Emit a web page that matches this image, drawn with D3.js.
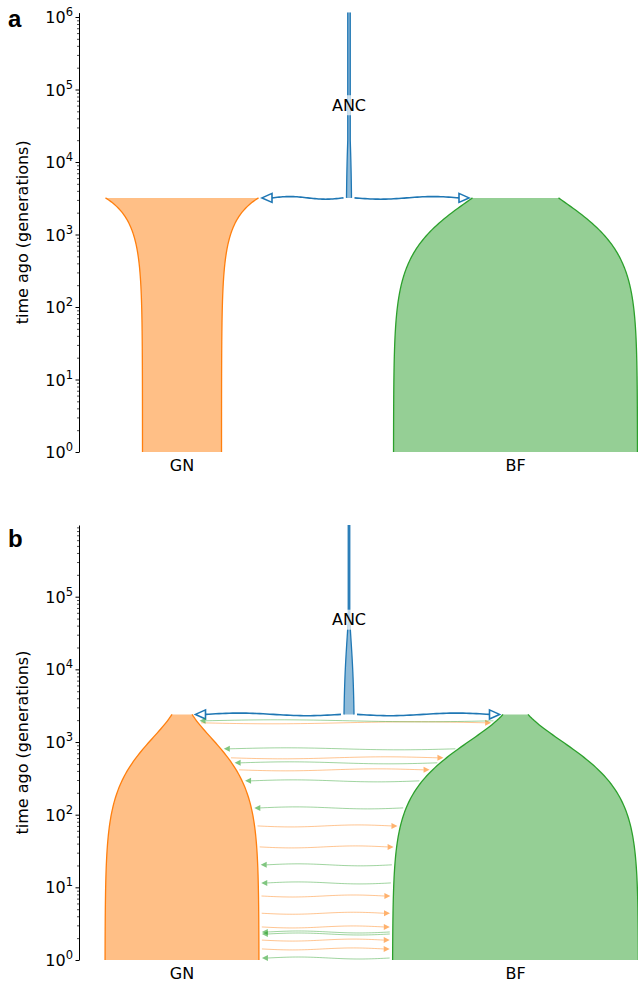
<!DOCTYPE html>
<html>
<head>
<meta charset="utf-8">
<script src="https://cdn.jsdelivr.net/npm/d3@7"></script>
<style>
body{margin:0;background:#fff}
svg text{font-family:"DejaVu Sans",sans-serif;fill:#000}
</style>
</head>
<body>
<div id="container"></div>
<script>
const canvasWidth = 638;
const canvasHeight = 984;

// demes and their x position (in population-size units, like demesdraw)
const demeNames = ['ANC', 'GN', 'BF'];
const demePos = [27000, 10300, 43650];

// epochs: [deme, start time, end time, start size, end size]
const epochsA = [
  ['ANC', Infinity, 20000, 250, 250],
  ['ANC', 20000, 3200, 250, 500],
  ['GN', 3200, 0, 15300, 7900],
  ['BF', 3200, 0, 8600, 24400]
];
const epochsB = [
  ['ANC', Infinity, 50000, 150, 150],
  ['ANC', 50000, 2400, 150, 1000],
  ['GN', 2400, 0, 2000, 15400],
  ['BF', 2400, 0, 2500, 24600]
];
const splitA = 3200;
const splitB = 2400;

// migration arrow times in panel b (generations ago)
const migGNtoBF = [1838, 606, 414, 70, 36, 7.6, 4.4, 2.85, 1.88, 1.42];
const migBFtoGN = [1959, 806, 517, 292, 124, 20.4, 11.5, 2.43, 2.28, 1.065];

const majorTicks = [1, 10, 100, 1000, 10000, 100000, 1000000];

//colors
let dc = {'ANC':'#1f77b4', 'GN':'#ff7f0e', 'BF':'#2ca02c'};

let svg = d3.select('#container')
  .append('svg')
  .attr('width', canvasWidth)
  .attr('height', canvasHeight);

let xScale = d3.scaleLinear().domain([0, 56000]).range([79, 639]);
let axisX = 79;

function sizeAt(ep, t){
  if (!isFinite(ep[1])) return ep[3];
  let f = (ep[1]-t)/(ep[1]-ep[2]);
  return ep[3]*Math.pow(ep[4]/ep[3], f);
}

function wavy(x1, x2, y, amp){
  let pts = d3.range(0, 41).map(function(i){
    let f = i/40;
    return [x1+(x2-x1)*f, y+amp*Math.sin(2*Math.PI*f)];
  });
  return d3.line()(pts);
}

function drawPanel(layout, epochs, split, migs){
  let g = svg.append('g');
  let yScale = d3.scaleLog().domain([1, layout.tmax]).range([layout.bottom, layout.top]);

  // demes
  demeNames.forEach(function(name, di){
    let eps = epochs.filter(e => e[0] == name);
    let pts = [];
    eps.forEach(function(ep){
      let t0 = Math.min(ep[1], layout.tmax);
      let t1 = Math.max(ep[2], 1);
      let n = 120;
      for (let i = 0; i <= n; i++){
        let t = Math.exp(Math.log(t0) + (Math.log(t1)-Math.log(t0))*i/n);
        pts.push([t, sizeAt(ep, t)]);
      }
    });
    let pos = demePos[di];
    let left = pts.map(p => [xScale(pos-p[1]/2), yScale(p[0])]);
    let right = pts.map(p => [xScale(pos+p[1]/2), yScale(p[0])]);
    let poly = left.concat(right.slice().reverse());
    g.append('path')
      .attr('d', d3.line()(poly)+'Z')
      .style('fill', dc[name])
      .style('fill-opacity', 0.5)
      .style('stroke', 'none');
    [left, right].forEach(function(side){
      g.append('path')
        .attr('d', d3.line()(side))
        .style('fill', 'none')
        .style('stroke', dc[name])
        .style('stroke-width', 1.3);
    });
  });

  // ancestry arrows from ANC
  let ancEp = epochs.filter(e => e[0]=='ANC');
  let ancSize = ancEp[ancEp.length-1][4];
  let ys = yScale(split);
  ['GN','BF'].forEach(function(child){
    let ci = demeNames.indexOf(child);
    let cEp = epochs.filter(e => e[0]==child)[0];
    let dir = demePos[ci] < demePos[0] ? -1 : 1;
    let xa = xScale(demePos[0] + dir*ancSize/2) + dir*3;
    let xb = xScale(demePos[ci] - dir*cEp[3]/2) - dir*3.5;
    let hl = 10;
    g.append('path')
      .attr('d', wavy(xa, xb - dir*hl, ys, 1.3))
      .style('fill','none')
      .style('stroke', dc['ANC'])
      .style('stroke-width', 1.6);
    g.append('path')
      .attr('d', d3.line()([[xb, ys], [xb-dir*hl, ys-4.5], [xb-dir*hl, ys+4.5]])+'Z')
      .style('fill','#fff')
      .style('stroke', dc['ANC'])
      .style('stroke-width', 1.6);
  });

  // migrations
  function drawMig(times, src, dst){
    let si = demeNames.indexOf(src), di = demeNames.indexOf(dst);
    let sEp = epochs.filter(e => e[0]==src)[0];
    let dEp = epochs.filter(e => e[0]==dst)[0];
    let dir = demePos[di] > demePos[si] ? 1 : -1;
    times.forEach(function(t){
      let y = yScale(t);
      let xa = xScale(demePos[si] + dir*sizeAt(sEp, t)/2) + dir*3;
      let xb = xScale(demePos[di] - dir*sizeAt(dEp, t)/2) - dir*3;
      let hl = 6;
      g.append('path')
        .attr('d', wavy(xa, xb - dir*hl, y, 1))
        .style('fill','none')
        .style('stroke', dc[src])
        .style('stroke-opacity', 0.45)
        .style('stroke-width', 1);
      g.append('path')
        .attr('d', d3.line()([[xb, y], [xb-dir*hl, y-3], [xb-dir*hl, y+3]])+'Z')
        .style('fill', dc[src])
        .style('fill-opacity', 0.6);
    });
  }
  if (migs){
    drawMig(migs[0], 'GN', 'BF');
    drawMig(migs[1], 'BF', 'GN');
  }

  // ANC label
  let lt = Math.sqrt(split*layout.tmax);
  let lab = g.append('g').attr('transform', 'translate('+xScale(demePos[0])+','+yScale(lt)+')');
  lab.append('rect').attr('x', -19).attr('y', -10).attr('width', 38).attr('height', 20)
    .style('fill', '#fff').style('fill-opacity', 0.7);
  lab.append('text').text('ANC')
    .attr('text-anchor', 'middle').attr('dy', '0.36em')
    .style('font-size', '16px');

  // y axis
  let minors = [];
  for (let k = 0; k < 7; k++){
    for (let m = 2; m < 10; m++){
      let v = m*Math.pow(10, k);
      if (v <= layout.tmax) minors.push(v);
    }
  }
  let majors = majorTicks.filter(v => v <= layout.tmax);
  let ax = g.append('g').attr('transform', 'translate('+axisX+',0)');
  ax.call(d3.axisLeft(yScale).tickValues(minors).tickSize(2).tickSizeOuter(0).tickFormat(''));
  ax.call(function(a){ a.selectAll('.tick line').style('stroke-width', 0.7); });
  let ax2 = g.append('g').attr('transform', 'translate('+axisX+',0)');
  ax2.call(d3.axisLeft(yScale).tickValues(majors).tickSize(3.5).tickSizeOuter(0).tickFormat(''));
  ax2.select('.domain').remove();
  ax.select('.domain').style('stroke-width', 1);
  majors.forEach(function(v){
    let t = g.append('text')
      .attr('x', axisX-6)
      .attr('y', yScale(v)+6)
      .attr('text-anchor', 'end')
      .style('font-size', '16px');
    t.append('tspan').text('10');
    t.append('tspan').text(Math.round(Math.log10(v)))
      .attr('dy', -7).style('font-size', '11.5px');
  });

  g.append('text')
    .text('time ago (generations)')
    .attr('transform', 'translate(28,'+((layout.top+layout.bottom)/2)+') rotate(-90)')
    .attr('text-anchor', 'middle')
    .style('font-size', '16px');

  // deme labels under x axis
  ['GN','BF'].forEach(function(name){
    g.append('text').text(name)
      .attr('x', xScale(demePos[demeNames.indexOf(name)]))
      .attr('y', layout.bottom+19)
      .attr('text-anchor', 'middle')
      .style('font-size', '16px');
  });

  g.append('text').text(layout.label)
    .attr('x', 8).attr('y', layout.labelY)
    .style('font-family', '"Liberation Sans", Arial, sans-serif')
    .style('font-weight', 'bold')
    .style('font-size', '24px');
}

drawPanel({top: 12.6, bottom: 452, tmax: 1.15e6, label: 'a', labelY: 27}, epochsA, splitA, null);
drawPanel({top: 525, bottom: 960, tmax: 9.7e5, label: 'b', labelY: 547}, epochsB, splitB, [migGNtoBF, migBFtoGN]);
</script>
</body>
</html>
